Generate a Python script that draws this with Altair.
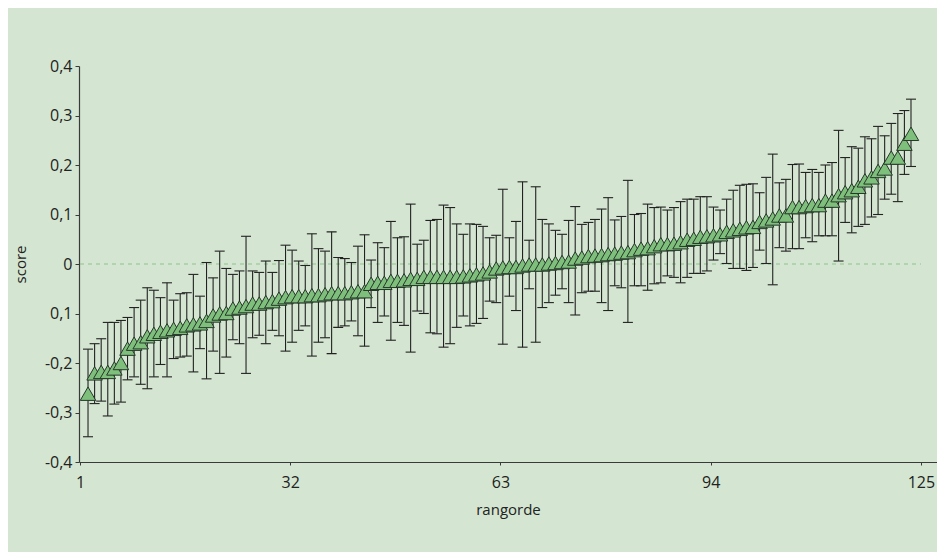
import altair as alt
import pandas as pd

# ---- data ----
rank = list(range(1, 127))

mean = [
    -0.262, -0.221, -0.218, -0.218, -0.211, -0.200, -0.171, -0.161, -0.158, -0.146,
    -0.141, -0.137, -0.134, -0.131, -0.129, -0.124, -0.122, -0.120, -0.115, -0.104,
    -0.100, -0.099, -0.090, -0.088, -0.085, -0.080, -0.080, -0.077, -0.075, -0.070,
    -0.067, -0.065, -0.065, -0.065, -0.063, -0.063, -0.061, -0.059, -0.059, -0.059,
    -0.057, -0.055, -0.055, -0.040, -0.038, -0.038, -0.034, -0.034, -0.033, -0.030,
    -0.030, -0.026, -0.026, -0.026, -0.026, -0.026, -0.026, -0.025, -0.023, -0.021,
    -0.019, -0.015, -0.009, -0.007, -0.006, -0.006, -0.003, -0.001, -0.001, -0.001,
    0.001, 0.002, 0.004, 0.005, 0.011, 0.013, 0.016, 0.017, 0.018, 0.020,
    0.021, 0.023, 0.024, 0.028, 0.031, 0.032, 0.036, 0.040, 0.040, 0.041,
    0.044, 0.049, 0.051, 0.055, 0.056, 0.058, 0.060, 0.065, 0.068, 0.071,
    0.074, 0.075, 0.085, 0.088, 0.092, 0.098, 0.098, 0.115, 0.115, 0.117,
    0.119, 0.119, 0.128, 0.128, 0.139, 0.145, 0.149, 0.156, 0.169, 0.175,
    0.188, 0.193, 0.215, 0.215, 0.243, 0.263,
]

upper = [
    -0.172, -0.161, -0.151, -0.118, -0.118, -0.114, -0.108, -0.088, -0.073, -0.048,
    -0.053, -0.068, -0.038, -0.073, -0.060, -0.058, -0.021, -0.065, 0.003, -0.028,
    0.026, -0.009, -0.021, -0.014, 0.056, -0.014, -0.017, 0.006, -0.017, 0.007,
    0.038, 0.028, 0.006, -0.003, 0.061, 0.031, 0.026, 0.065, 0.013, 0.011,
    0.003, 0.036, 0.059, 0.008, 0.043, 0.033, 0.086, 0.053, 0.055, 0.121,
    0.040, 0.048, 0.088, 0.090, 0.119, 0.114, 0.081, 0.060, 0.081, 0.080,
    0.076, 0.053, 0.058, 0.151, 0.053, 0.086, 0.166, 0.048, 0.156, 0.090,
    0.081, 0.068, 0.060, 0.088, 0.116, 0.080, 0.084, 0.090, 0.111, 0.134,
    0.089, 0.096, 0.169, 0.100, 0.102, 0.121, 0.114, 0.115, 0.109, 0.114,
    0.126, 0.131, 0.131, 0.136, 0.136, 0.115, 0.109, 0.131, 0.149, 0.159,
    0.161, 0.162, 0.144, 0.175, 0.222, 0.164, 0.171, 0.201, 0.202, 0.185,
    0.191, 0.185, 0.200, 0.205, 0.270, 0.215, 0.237, 0.234, 0.257, 0.253,
    0.278, 0.259, 0.284, 0.304, 0.310, 0.333,
]

lower = [
    -0.349, -0.282, -0.277, -0.307, -0.283, -0.279, -0.234, -0.228, -0.243, -0.252,
    -0.228, -0.203, -0.228, -0.191, -0.188, -0.186, -0.218, -0.171, -0.232, -0.176,
    -0.221, -0.188, -0.153, -0.161, -0.221, -0.149, -0.144, -0.161, -0.134, -0.145,
    -0.176, -0.158, -0.134, -0.125, -0.186, -0.158, -0.149, -0.181, -0.128, -0.125,
    -0.115, -0.145, -0.166, -0.088, -0.118, -0.105, -0.154, -0.118, -0.124, -0.178,
    -0.095, -0.100, -0.139, -0.141, -0.168, -0.161, -0.128, -0.105, -0.125, -0.120,
    -0.110, -0.075, -0.078, -0.162, -0.065, -0.094, -0.168, -0.050, -0.158, -0.088,
    -0.078, -0.063, -0.050, -0.078, -0.103, -0.058, -0.055, -0.055, -0.078, -0.094,
    -0.044, -0.048, -0.118, -0.044, -0.044, -0.053, -0.040, -0.038, -0.024, -0.027,
    -0.038, -0.027, -0.019, -0.019, -0.014, 0.008, 0.021, 0.001, -0.009, -0.009,
    -0.013, -0.007, 0.028, 0.001, -0.042, 0.033, 0.026, 0.031, 0.031, 0.053,
    0.045, 0.057, 0.057, 0.057, 0.006, 0.084, 0.063, 0.076, 0.080, 0.095,
    0.100, 0.131, 0.141, 0.126, 0.181, 0.197,
]

x_ticks = [1, 32, 63, 94, 125]
y_ticks = [-0.4, -0.3, -0.2, -0.1, 0, 0.1, 0.2, 0.3, 0.4]
y_tick_labels = ["-0,4", "-0,3", "-0,2", "0,1", "0", "0,1", "0,2", "0,3", "0,4"]

df = pd.DataFrame({"rangorde": rank, "score": mean, "lo": lower, "hi": upper})
ticks_df = pd.DataFrame({"tick": x_ticks})

BG = "#d4e6d1"
FONT = "Open Sans"
INK = "#222222"

yscale = alt.Scale(domain=[-0.4, 0.4], nice=False, zero=False)
xdata = alt.Scale(domain=[-0.37, 129.95], nice=False, zero=False)
xaxis_scale = alt.Scale(domain=[0.853, 127.37], nice=False, zero=False)

label_expr = "[" + ",".join(f"'{s}'" for s in y_tick_labels) + "][round(datum.value*10+4)]"

yaxis = alt.Axis(
    values=y_ticks, labelExpr=label_expr, title="score", grid=False,
    tickSize=4, labelPadding=3, titlePadding=16,
)

xaxis = alt.Axis(
    values=x_ticks, format="d", title="rangorde", grid=False, orient="bottom",
    tickSize=3, labelPadding=9, titlePadding=12, labelFlush=False,
)

base = alt.Chart(df)

zero = alt.Chart(ticks_df).mark_rule(
    color="#8ec28b", strokeDash=[4, 4], strokeWidth=1
).encode(
    x=alt.X("min(tick):Q", scale=xaxis_scale, axis=xaxis, title="rangorde"),
    x2="max(tick):Q",
    y=alt.datum(0),
)

bars = base.mark_rule(color=INK, strokeWidth=1.1).encode(
    x=alt.X("rangorde:Q", scale=xdata, axis=None),
    y=alt.Y("lo:Q", scale=yscale, axis=yaxis, title="score"),
    y2="hi:Q",
)

caps_lo = base.mark_tick(orient="horizontal", size=10, thickness=1.1, color=INK, opacity=1).encode(
    x=alt.X("rangorde:Q", scale=xdata, axis=None),
    y=alt.Y("lo:Q", scale=yscale, title="score"),
)

caps_hi = base.mark_tick(orient="horizontal", size=10, thickness=1.1, color=INK, opacity=1).encode(
    x=alt.X("rangorde:Q", scale=xdata, axis=None),
    y=alt.Y("hi:Q", scale=yscale, title="score"),
)

points = base.mark_point(
    shape="triangle-up", filled=True, size=240, fill="#7dbf7b",
    stroke="#27372a", strokeWidth=1, opacity=1,
).encode(
    x=alt.X("rangorde:Q", scale=xdata, axis=None),
    y=alt.Y("score:Q", scale=yscale, title="score"),
)

chart = (
    alt.layer(zero, bars, caps_lo, caps_hi, points)
    .resolve_scale(x="independent")
    .properties(
        width=858, height=396, background=BG,
        padding={"left": 71, "top": 58, "right": 0, "bottom": 90},
        autosize=alt.AutoSizeParams(type="none"),
    )
    .configure_view(stroke=None)
    .configure_axis(
        labelFont=FONT, titleFont=FONT, labelFontSize=16, titleFontSize=15,
        labelColor=INK, titleColor=INK, titleFontWeight="normal",
        domainColor="#3a3a3a", tickColor="#3a3a3a", domainWidth=1.2, tickWidth=1,
    )
)

chart.save("out.html", embed_options={"renderer": "svg", "actions": False})
